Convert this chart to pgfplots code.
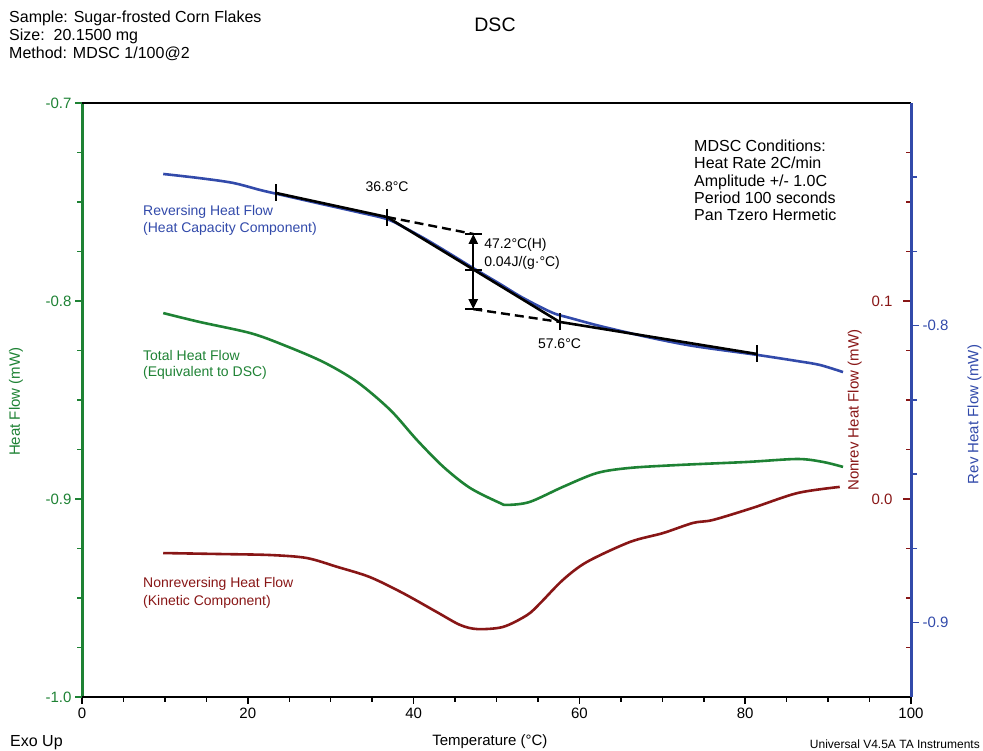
\documentclass[border=0pt]{standalone}
\usepackage{pgfplots}
\pgfplotsset{compat=1.18}
\usepackage{pgfplotstable}
\usepackage{fontspec}
\setmainfont{Liberation Sans}
\usetikzlibrary{arrows.meta}

\definecolor{hfgreen}{RGB}{30,130,52}
\definecolor{revblue}{RGB}{50,74,170}
\definecolor{nrred}{RGB}{136,22,22}

% Total heat flow (mW) vs temperature (C)
\pgfplotstableread{
T v
9.8 -0.8061
14.2 -0.8106
20.3 -0.8162
24.3 -0.8222
29.1 -0.8308
33.2 -0.8409
37.2 -0.8551
40.4 -0.8702
43.6 -0.8838
46.8 -0.8944
50.4 -0.9020
51.3 -0.9030
54.0 -0.9015
58.0 -0.8939
62.1 -0.8869
66.1 -0.8843
72.1 -0.8828
80.2 -0.8813
86.3 -0.8798
89.4 -0.8813
91.8 -0.8838
}\totalhf

% Nonreversing heat flow (mW)
\pgfplotstableread{
T v
9.8 -0.0273
16.7 -0.0278
22.7 -0.0283
27.1 -0.0298
30.8 -0.0343
34.7 -0.0394
38.7 -0.0475
42.8 -0.0571
45.6 -0.0636
47.7 -0.0657
50.8 -0.0646
53.7 -0.0586
55.3 -0.0525
58.0 -0.0409
60.9 -0.0318
66.1 -0.0217
70.1 -0.0172
73.7 -0.0121
76.1 -0.0106
80.9 -0.0045
86.3 0.0030
91.4 0.0061
}\nonrevhf

% Reversing heat flow (mW)
\pgfplotstableread{
T v
9.8 -0.7489
14.2 -0.7503
18.2 -0.7519
21.5 -0.7543
23.5 -0.7556
28.4 -0.7587
33.2 -0.7617
36.8 -0.7641
39.0 -0.7671
41.6 -0.7711
44.4 -0.7758
47.2 -0.7806
50.4 -0.7859
52.8 -0.7900
55.3 -0.7937
57.1 -0.7960
58.9 -0.7974
62.5 -0.8001
68.2 -0.8038
73.7 -0.8068
81.4 -0.8098
86.3 -0.8119
89.0 -0.8132
91.8 -0.8156
}\revhf

\pgfplotsset{
  dsc frame/.style={
    at={(82pt,54pt)}, anchor=south west,
    scale only axis, width=829pt, height=594pt,
    xmin=0, xmax=100,
    axis line style={draw=none},
    scaled ticks=false,
    clip=false,
    /pgf/number format/assume math mode=true,
    tick label style={font=\fontsize{15}{18}\selectfont},
    label style={font=\fontsize{15}{18}\selectfont},
    yticklabel style={/pgf/number format/fixed,
      /pgf/number format/fixed zerofill,
      /pgf/number format/precision=1},
  },
  curve/.style={line width=2.6pt, smooth},
}

\begin{document}
\begin{tikzpicture}[font=\fontsize{16}{19}\selectfont]
\path[use as bounding box] (0,0) rectangle (983pt,751pt);

% Heat flow axis (left) and temperature axis
\begin{axis}[dsc frame,
  ymin=-1, ymax=-0.7,
  xtick={0,20,...,100}, minor x tick num=3,
  ytick={-1,-0.9,-0.8,-0.7}, minor y tick num=3,
  xtick pos=left, ytick pos=left,
  tick align=outside,
  major tick length=7pt, minor tick length=5pt,
  x tick style={black, line width=1.5pt},
  y tick style={hfgreen, line width=1.5pt},
  yticklabel style={hfgreen},
  xlabel={Temperature (°C)},
  xlabel style={at={(axis description cs:0.492,-0.0757)}, anchor=center},
  ylabel={Heat Flow (mW)},
  ylabel style={hfgreen, at={(axis description cs:-0.0796,0.497)}, anchor=center},
]
\draw[hfgreen, line width=3pt] (rel axis cs:0,0) -- (rel axis cs:0,1);
\draw[black, line width=2.6pt] (rel axis cs:0,1) -- (rel axis cs:1,1);
\draw[black, line width=2.6pt] (rel axis cs:0,0) -- (rel axis cs:1,0);
\addplot[curve, hfgreen] table[x=T, y=v] {\totalhf};
\end{axis}

% Nonreversing heat flow axis (right, inner ticks)
\begin{axis}[dsc frame,
  hide x axis,
  ymin=-0.1, ymax=0.2,
  ytick={0,0.1},
  minor ytick={-0.075,-0.05,-0.025,0.025,0.05,0.075,0.125,0.15,0.175},
  ytick pos=right,
  tick align=inside,
  major tick length=8pt, minor tick length=5pt,
  y tick style={nrred, line width=1.5pt},
  yticklabel style={nrred, anchor=east, xshift=-15pt},
  ylabel={Nonrev Heat Flow (mW)},
  ylabel style={nrred, at={(axis description cs:0.932,0.483)}, anchor=center, inner sep=0pt},
]
\addplot[curve, nrred] table[x=T, y=v] {\nonrevhf};
\end{axis}

% Reversing heat flow axis (right, outer ticks)
\begin{axis}[dsc frame,
  hide x axis,
  ymin=-0.925, ymax=-0.725,
  ytick={-0.9,-0.8},
  minor ytick={-0.875,-0.85,-0.825,-0.775,-0.75},
  ytick pos=right,
  tick align=outside,
  major tick length=8pt, minor tick length=6pt,
  y tick style={revblue, line width=1.5pt},
  yticklabel style={revblue},
  ylabel={Rev Heat Flow (mW)},
  ylabel style={revblue, at={(axis description cs:1.0765,0.4756)}, anchor=center, inner sep=0pt},
]
\draw[revblue, line width=3pt] (rel axis cs:1,0) -- (rel axis cs:1,1);
\addplot[curve, revblue] table[x=T, y=v] {\revhf};

% glass transition construction
\addplot[black, line width=2.6pt] coordinates {(23.4,-0.7553) (36.8,-0.7634)};
\addplot[black, line width=2.6pt] coordinates {(36.8,-0.7634) (57.6,-0.7987) (81.4,-0.8095)};
\addplot[black, line width=2.4pt, dash pattern=on 9pt off 5pt] coordinates {(36.8,-0.7634) (47.2,-0.7691)};
\addplot[black, line width=2.4pt, dash pattern=on 9pt off 5pt] coordinates {(47.2,-0.7944) (57.6,-0.7987)};
\addplot[black, line width=2.4pt, -{Triangle[length=10pt,width=9pt]}] coordinates {(47.2,-0.7812) (47.2,-0.7691)};
\addplot[black, line width=2.4pt, -{Triangle[length=10pt,width=9pt]}] coordinates {(47.2,-0.7812) (47.2,-0.7944)};
\addplot[black, line width=2pt, only marks, mark=|, mark size=8.5pt] coordinates {(23.4,-0.7553) (36.8,-0.7634) (57.6,-0.7987) (81.4,-0.8095)};
\addplot[black, line width=2pt, only marks, mark=-, mark size=8.5pt] coordinates {(47.2,-0.7691) (47.2,-0.7812) (47.2,-0.7944)};

\node[font=\fontsize{14}{16}\selectfont] at (axis cs:36.8,-0.7533) {36.8°C};
\node[font=\fontsize{14}{16}\selectfont, anchor=west, inner sep=0pt] at (axis cs:48.5,-0.7728) {47.2°C(H)};
\node[font=\fontsize{14}{16}\selectfont, anchor=west, inner sep=0pt] at (axis cs:48.5,-0.7789) {0.04J/(g·°C)};
\node[font=\fontsize{14}{16}\selectfont] at (axis cs:57.6,-0.8061) {57.6°C};
\end{axis}

% header
\node[anchor=base west, inner sep=0pt] at (9pt,728.3pt) {Sample: Sugar-frosted Corn Flakes};
\node[anchor=base west, inner sep=0pt] at (9pt,710.3pt) {Size:\ \ 20.1500 mg};
\node[anchor=base west, inner sep=0pt] at (9pt,692.3pt) {Method: MDSC 1/100@2};
\node[anchor=base, inner sep=0pt, font=\fontsize{19.5}{22}\selectfont] at (495pt,719pt) {DSC};

% method conditions
\begin{scope}[every node/.style={anchor=base west, inner sep=0pt}]
\node at (694pt,599.3pt) {MDSC Conditions:};
\node at (694pt,582.1pt) {Heat Rate 2C/min};
\node at (694pt,564.9pt) {Amplitude +/- 1.0C};
\node at (694pt,547.7pt) {Period 100 seconds};
\node at (694pt,530.5pt) {Pan Tzero Hermetic};
\end{scope}

% curve captions
\begin{scope}[every node/.style={anchor=west, inner sep=0pt, font=\fontsize{14}{16}\selectfont}]
\node[text=revblue] at (143pt,539pt) {Reversing Heat Flow};
\node[text=revblue] at (143pt,522pt) {(Heat Capacity Component)};
\node[text=hfgreen] at (143pt,395pt) {Total Heat Flow};
\node[text=hfgreen] at (143pt,378pt) {(Equivalent to DSC)};
\node[text=nrred] at (143pt,167pt) {Nonreversing Heat Flow};
\node[text=nrred] at (143pt,149pt) {(Kinetic Component)};
\end{scope}

% footer
\node[anchor=base west, inner sep=0pt] at (10pt,4.5pt) {Exo Up};
\node[anchor=base east, inner sep=0pt, font=\fontsize{12}{14}\selectfont] at (980pt,2.5pt) {Universal V4.5A TA Instruments};
\end{tikzpicture}
\end{document}
